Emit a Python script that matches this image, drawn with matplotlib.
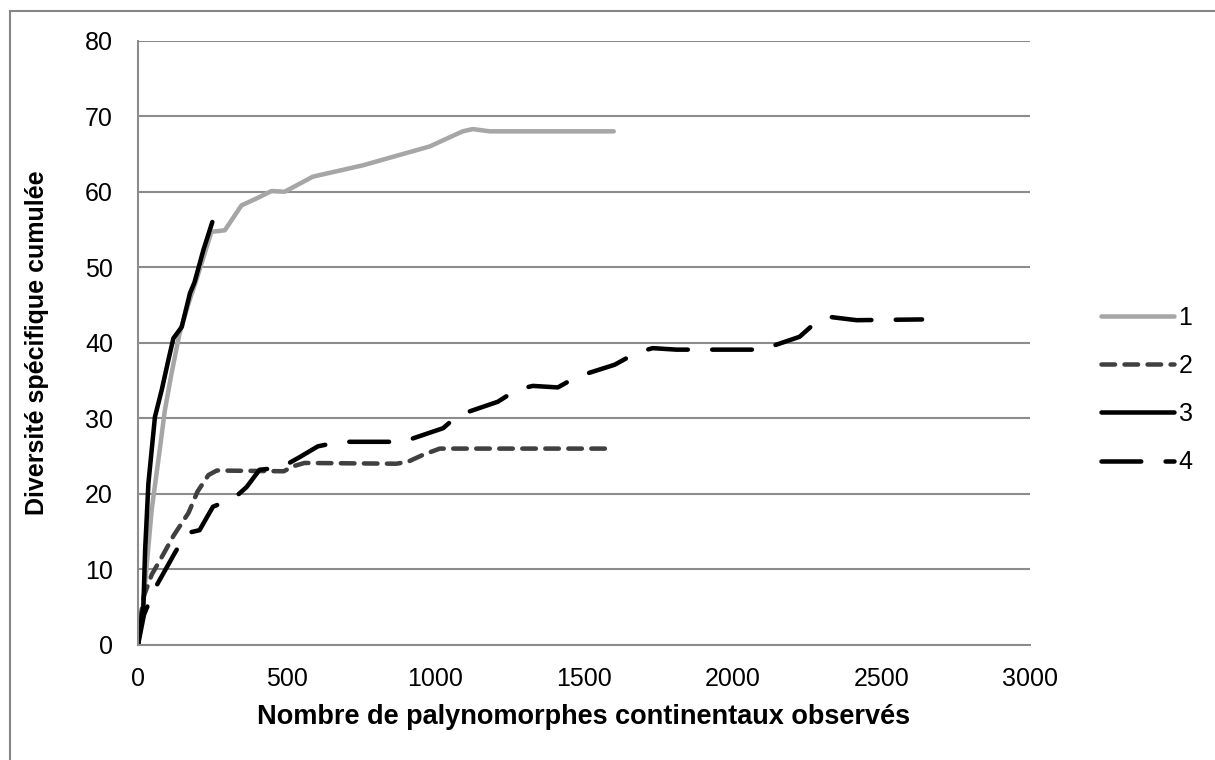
import matplotlib
matplotlib.use("Agg")
import matplotlib.pyplot as plt
from matplotlib.lines import Line2D

plt.rcParams['font.family'] = ['Liberation Sans', 'DejaVu Sans']

# courbes de raréfaction
x1 = [0, 18, 46, 73, 90, 113, 140, 174, 196, 247, 292, 348, 398, 449, 493, 588, 756, 981, 1092, 1126, 1183, 1600]
y1 = [0, 5.6, 17.9, 25.8, 31, 36, 41.3, 45.7, 48.3, 54.7, 54.9, 58.2, 59.1, 60.1, 60.0, 62.0, 63.5, 66.0, 68.0, 68.3, 68.0, 68]

x2 = [0, 10, 20, 46, 85, 120, 170, 200, 237, 265, 490, 525, 560, 870, 910, 960, 1015, 1600]
y2 = [0, 4, 6.5, 9.3, 12, 14.5, 17.5, 20.3, 22.5, 23.1, 23, 23.7, 24.1, 24, 24.3, 25.2, 26, 26]

x3 = [0, 5, 18, 24, 35, 57, 80, 102, 119, 147, 175, 190, 220, 250]
y3 = [0, 2, 5, 12.6, 21.4, 30.2, 33.8, 37.7, 40.6, 42.1, 46.6, 48, 52.3, 56.0]

x4 = [0, 20, 57, 124, 163, 207, 252, 325, 365, 409, 482, 545, 605, 679, 813, 891, 1026, 1076,
      1210, 1274, 1328, 1412, 1475, 1603, 1677, 1731, 1811, 2024, 2098, 2225, 2282, 2333, 2417, 2637]
y4 = [0, 4, 7.5, 12.2, 14.8, 15.2, 18.3, 19.5, 20.9, 23.2, 23.5, 24.9, 26.3, 26.9, 26.9, 26.9, 28.7, 30.4,
      32.2, 33.8, 34.3, 34.1, 35.5, 37.1, 38.7, 39.3, 39.1, 39.1, 39.1, 40.8, 42.8, 43.4, 43.0, 43.1]

labels = ['1', '2', '3', '4']
xticks = [0, 500, 1000, 1500, 2000, 2500, 3000]
yticks = [0, 10, 20, 30, 40, 50, 60, 70, 80]

fig = plt.figure(figsize=(12.15, 7.6), dpi=100)
ax = fig.add_axes([138 / 1215, 1 - 645 / 760, 892 / 1215, (645 - 40.7) / 760])

lw = 3.25
ax.plot(x1, y1, color='#A6A6A6', lw=lw, solid_capstyle='round', label=labels[0])
ax.plot(x2, y2, color='#404040', lw=lw, dashes=(3, 2.1), dash_capstyle='round', label=labels[1])
ax.plot(x3, y3, color='black', lw=lw, solid_capstyle='round', label=labels[2])
ax.plot(x4, y4, color='black', lw=lw, dashes=(8.8, 5.4), dash_capstyle='round', label=labels[3])

ax.set_xlim(0, 3000)
ax.set_ylim(0, 80)
ax.set_xticks(xticks)
ax.set_yticks(yticks)
ax.tick_params(length=0, labelsize=18)
ax.tick_params(axis='x', pad=16)
ax.tick_params(axis='y', pad=18)
ax.grid(axis='y', color='#8C8C8C', lw=1.5)
ax.set_axisbelow(True)
for s in ['top', 'right']:
    ax.spines[s].set_visible(False)
for s in ['left', 'bottom']:
    ax.spines[s].set_color('#8C8C8C')
    ax.spines[s].set_linewidth(1.5)

ax.set_xlabel('Nombre de palynomorphes continentaux observés', fontsize=19.5, fontweight='bold', labelpad=9)
ax.set_ylabel('Diversité spécifique cumulée', fontsize=18, fontweight='bold', labelpad=26)

leg = fig.legend(loc='center left', bbox_to_anchor=(1101 / 1215, 1 - 390 / 760), frameon=False,
                 fontsize=18, handlelength=2.9, handletextpad=0.2, labelspacing=0.97,
                 borderpad=0, borderaxespad=0)

# cadre du graphique
fig.add_artist(Line2D([10 / 1215, 10 / 1215], [0, 1 - 11 / 760], color='#868686', lw=1.5))
fig.add_artist(Line2D([10 / 1215, 1], [1 - 11 / 760, 1 - 11 / 760], color='#868686', lw=1.5))

fig.savefig('out.png', dpi=100)
